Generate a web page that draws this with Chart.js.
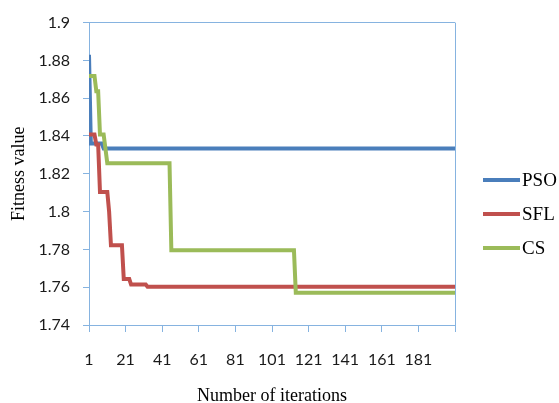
<!DOCTYPE html>
<html>
<head>
<meta charset="utf-8">
<script src="https://cdn.jsdelivr.net/npm/chart.js@4"></script>
<style>
  body { margin: 0; background: #fff; }
  #wrap { width: 559px; height: 403px; position: relative; }
</style>
</head>
<body>
<div id="wrap"><canvas id="fitnessChart"></canvas></div>
<script>
// iteration / fitness breakpoints
const psoIter = [1, 2, 8, 9, 201];
const psoFit  = [1.883, 1.836, 1.836, 1.8334, 1.8334];

const sflIter = [1, 4, 5, 6, 7, 11, 12, 13, 19, 20, 23, 24, 32, 33, 201];
const sflFit  = [1.8408, 1.8408, 1.8355, 1.8355, 1.8104, 1.8104, 1.7999, 1.7822, 1.7822, 1.7643, 1.7643, 1.7614, 1.7614, 1.7602, 1.7602];

const csIter = [1, 4, 5, 6, 7, 9, 11, 45, 46, 113, 114, 201];
const csFit  = [1.8718, 1.8718, 1.8637, 1.8637, 1.8408, 1.8408, 1.8256, 1.8256, 1.7795, 1.7795, 1.7571, 1.7571];

const seriesNames = ['PSO', 'SFL', 'CS'];
const seriesColors = ['#4a7ebb', '#c0504d', '#9bbb59'];

const xTickValues = [1, 21, 41, 61, 81, 101, 121, 141, 161, 181, 201];
const xTickLabels = ['1', '21', '41', '61', '81', '101', '121', '141', '161', '181', ''];
const yTickValues = [1.74, 1.76, 1.78, 1.8, 1.82, 1.84, 1.86, 1.88, 1.9];
const yTickLabels = ['1.74', '1.76', '1.78', '1.8', '1.82', '1.84', '1.86', '1.88', '1.9'];

const axisBlue = '#86b3e0';

function toPoints(xs, ys) {
    return xs.map((x, i) => ({ x: x, y: ys[i] }));
}

const sideLegend = {
    id: 'sideLegend',
    afterDraw(chart) {
        const ctx = chart.ctx;
        const left = chart.chartArea.right + 28;
        ctx.save();
        chart.data.datasets.forEach((ds, i) => {
            const y = 180 + i * 34;
            ctx.strokeStyle = ds.borderColor;
            ctx.lineWidth = 4;
            ctx.beginPath();
            ctx.moveTo(left, y);
            ctx.lineTo(left + 37, y);
            ctx.stroke();
            ctx.fillStyle = '#000';
            ctx.font = '19px "Liberation Serif"';
            ctx.textBaseline = 'middle';
            ctx.textAlign = 'left';
            ctx.fillText(ds.label, left + 39, y + 1);
        });
        ctx.restore();
    }
};

const datasets = [
    { label: seriesNames[0], data: toPoints(psoIter, psoFit), borderColor: seriesColors[0], order: 3 },
    { label: seriesNames[1], data: toPoints(sflIter, sflFit), borderColor: seriesColors[1], order: 2 },
    { label: seriesNames[2], data: toPoints(csIter, csFit), borderColor: seriesColors[2], order: 1 }
].map(d => Object.assign(d, {
    backgroundColor: d.borderColor,
    borderWidth: 4,
    pointRadius: 0,
    tension: 0,
    fill: false
}));

new Chart(document.getElementById('fitnessChart'), {
    type: 'line',
    data: { datasets: datasets },
    plugins: [sideLegend],
    options: {
        responsive: true,
        maintainAspectRatio: false,
        animation: false,
        layout: { padding: { left: 0, right: 104, top: 18, bottom: 0 } },
        plugins: {
            legend: { display: false },
            tooltip: { enabled: false }
        },
        scales: {
            x: {
                type: 'linear',
                min: 1,
                max: 201,
                afterBuildTicks: s => { s.ticks = xTickValues.map(v => ({ value: v })); },
                afterFit: s => { s.height = 78; },
                ticks: {
                    autoSkip: false,
                    maxRotation: 0,
                    padding: 18,
                    color: '#1a1a1a',
                    font: { family: 'Lato', size: 16 },
                    callback: (v, i) => xTickLabels[i]
                },
                grid: {
                    color: c => (c.tick && c.tick.value === 201) ? axisBlue : 'rgba(0,0,0,0)',
                    tickColor: axisBlue,
                    tickLength: 7
                },
                border: { color: axisBlue, width: 1 },
                title: {
                    display: true,
                    text: 'Number of iterations',
                    color: '#000',
                    font: { family: 'Liberation Serif', size: 18, lineHeight: 0.7 },
                    padding: { top: 0, bottom: 0 }
                }
            },
            y: {
                min: 1.74,
                max: 1.9,
                afterBuildTicks: s => { s.ticks = yTickValues.map(v => ({ value: v })); },
                afterFit: s => { s.width = 89; },
                ticks: {
                    padding: 13,
                    color: '#1a1a1a',
                    font: { family: 'Lato', size: 16 },
                    callback: (v, i) => yTickLabels[i]
                },
                grid: {
                    color: c => (c.tick && c.tick.value === 1.9) ? axisBlue : 'rgba(0,0,0,0)',
                    tickColor: axisBlue,
                    tickLength: 6
                },
                border: { color: axisBlue, width: 1 },
                title: {
                    display: true,
                    text: 'Fitness value',
                    color: '#000',
                    font: { family: 'Liberation Serif', size: 18, lineHeight: 1 },
                    padding: { top: 10, bottom: 0 }
                }
            }
        }
    }
});
</script>
</body>
</html>
